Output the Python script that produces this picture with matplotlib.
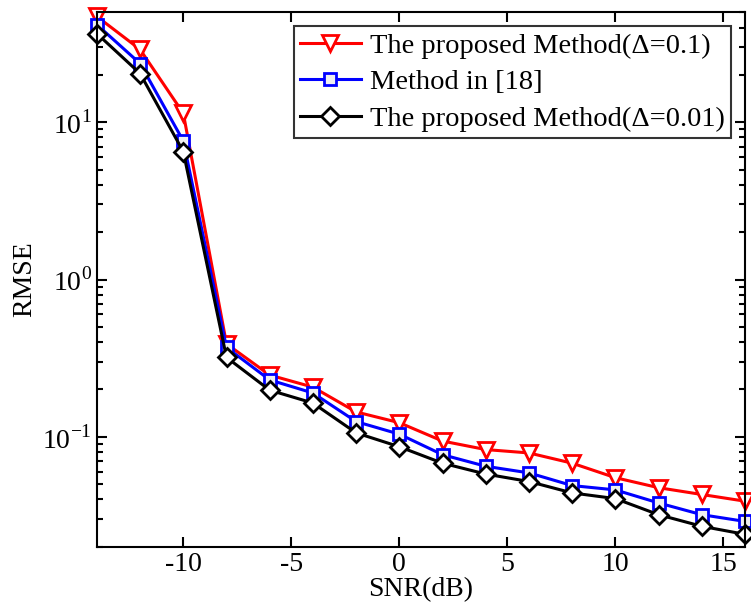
import matplotlib
matplotlib.use('Agg')
import matplotlib.pyplot as plt
from matplotlib.ticker import LogLocator

plt.rcParams['font.family'] = ['Liberation Serif', 'DejaVu Serif']
plt.rcParams['mathtext.fontset'] = 'custom'
plt.rcParams['mathtext.rm'] = 'Liberation Serif'

# SNR values (dB)
snr = [-14, -12, -10, -8, -6, -4, -2, 0, 2, 4, 6, 8, 10, 12, 14, 16]

# RMSE
rmse_d01 = [47, 29, 11.4, 0.39, 0.247, 0.207, 0.144, 0.123, 0.094, 0.083,
            0.079, 0.068, 0.055, 0.0475, 0.043, 0.039]
rmse_ref18 = [41.7, 23.6, 7.6, 0.37, 0.23, 0.19, 0.125, 0.104, 0.077, 0.065,
              0.059, 0.049, 0.046, 0.038, 0.032, 0.029]
rmse_d001 = [36.6, 20.4, 6.5, 0.32, 0.198, 0.164, 0.106, 0.0865, 0.068, 0.058,
             0.052, 0.044, 0.0405, 0.032, 0.027, 0.024]

labels = ['The proposed Method(\u0394=0.1)', 'Method in [18]',
          'The proposed Method(\u0394=0.01)']

fig = plt.figure(figsize=(7.51, 6.13), dpi=100)
ax = fig.add_axes([0.129, 0.108, 0.863, 0.872])

ax.semilogy(snr, rmse_d01, color='red', marker='v', markersize=11,
            markerfacecolor='white', markeredgewidth=2, linewidth=2.2,
            label=labels[0], clip_on=False)
ax.semilogy(snr, rmse_ref18, color='blue', marker='s', markersize=9,
            markerfacecolor='#f0f0f0', markeredgewidth=2, linewidth=2.2,
            label=labels[1], clip_on=False)
ax.semilogy(snr, rmse_d001, color='black', marker='D', markersize=9,
            markerfacecolor='white', markeredgewidth=2, linewidth=2.2,
            label=labels[2], clip_on=False)

ax.set_xlim(-14, 16)
ax.set_ylim(0.02, 50)
ax.set_xticks([-10, -5, 0, 5, 10, 15])
ax.set_xticklabels(['-10', '-5', '0', '5', '10', '15'])
ax.set_yticks([0.1, 1, 10])
ax.set_yticklabels(['10$^{\\mathregular{-1}}$', '10$^{\\mathregular{0}}$',
                    '10$^{\\mathregular{1}}$'])
ax.yaxis.set_minor_locator(LogLocator(base=10, subs=range(2, 10), numticks=10))

ax.tick_params(which='both', direction='in', top=True, right=True,
               labelsize=20, width=1.5)
ax.tick_params(which='major', length=7)
ax.tick_params(which='minor', length=4)
for s in ax.spines.values():
    s.set_linewidth(1.5)

ax.set_xlabel('SNR(dB)', fontsize=20, labelpad=0)
ax.set_ylabel('RMSE', fontsize=20, labelpad=4)

leg = ax.legend(loc='upper right', fontsize=20.5, frameon=True, fancybox=False,
                edgecolor='black', handlelength=2.15, handletextpad=0.3,
                borderpad=0.22, labelspacing=0.38, borderaxespad=0.5)
leg.get_frame().set_linewidth(1.5)

fig.savefig('out.png', dpi=100)
